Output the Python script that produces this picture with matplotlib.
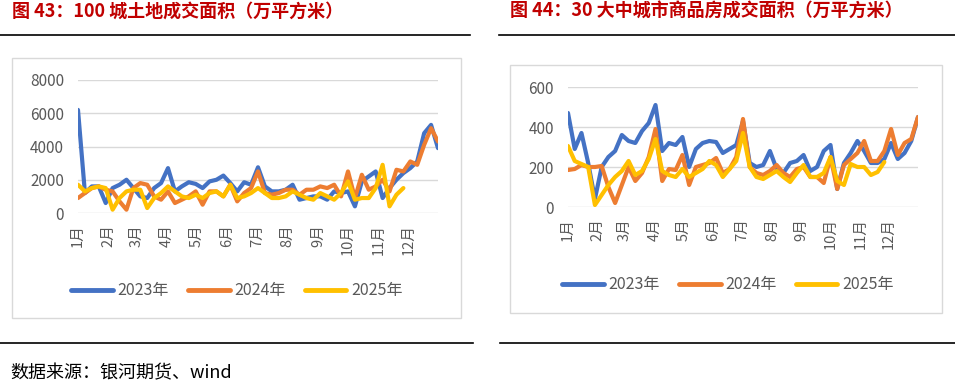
import matplotlib
matplotlib.use("Agg")
import matplotlib.pyplot as plt
from matplotlib.lines import Line2D
from matplotlib.patches import Rectangle

plt.rcParams['font.family'] = ['Noto Sans CJK SC', 'DejaVu Sans']

# ---------------- data ----------------
month_labels = ["1月", "2月", "3月", "4月", "5月", "6月", "7月", "8月", "9月", "10月", "11月", "12月"]
month_start_day = [0, 31, 59, 90, 120, 151, 181, 212, 243, 273, 304, 334]
series_names = ["2023年", "2024年", "2025年"]

land_2023 = [6200, 1200, 1600, 1600, 600, 1500, 1700, 2000, 1500, 1000, 900, 1500, 1800, 2700,
             1300, 1600, 1850, 1750, 1500, 1900, 2000, 2250, 1800, 1300, 1850, 1700, 2750, 1600,
             1300, 1300, 1400, 1700, 800, 900, 1000, 1000, 800, 1300, 1200, 1300, 400, 1900,
             2200, 2500, 900, 1500, 2000, 2400, 2700, 3100, 4800, 5300, 3900]
land_2024 = [900, 1200, 1500, 1600, 1400, 1300, 700, 200, 1500, 1800, 1700, 1000, 800, 1300,
             600, 800, 1000, 1300, 500, 1300, 1300, 1000, 1700, 700, 1200, 1500, 2500, 1200,
             1100, 1200, 1400, 1400, 1100, 1400, 1400, 1600, 1500, 1700, 1000, 2500, 900, 2300,
             1400, 1600, 2000, 1300, 2600, 2500, 3100, 2900, 4100, 5100, 4300]
land_2025 = [1700, 1300, 1500, 1600, 1500, 200, 900, 1300, 1400, 1400, 300, 900, 1200, 1600,
             1300, 1000, 900, 1100, 900, 1200, 1300, 1000, 1700, 900, 1000, 1200, 1500, 1200,
             900, 900, 1000, 1300, 1100, 900, 800, 1200, 1000, 800, 1200, 1900, 800, 900,
             900, 1500, 2900, 400, 1100, 1500]

house_2023 = [470, 290, 370, 220, 40, 200, 250, 280, 360, 330, 320, 380, 420, 510,
              280, 320, 310, 350, 200, 290, 320, 330, 325, 270, 290, 310, 430, 220,
              200, 210, 280, 190, 170, 220, 230, 260, 180, 200, 280, 310, 90, 220,
              270, 330, 280, 220, 220, 240, 320, 240, 270, 330, 450]
house_2024 = [185, 190, 210, 200, 200, 205, 100, 20, 110, 200, 130, 170, 250, 390,
              130, 190, 185, 260, 110, 200, 210, 220, 245, 170, 190, 250, 440, 200,
              170, 160, 180, 210, 170, 150, 190, 200, 150, 150, 120, 250, 90, 210,
              240, 270, 330, 230, 230, 280, 390, 260, 320, 340, 450]
house_2025 = [305, 230, 215, 200, 10, 60, 110, 150, 180, 230, 160, 180, 240, 340,
              180, 160, 150, 190, 150, 170, 190, 230, 210, 150, 190, 230, 370, 200,
              150, 140, 160, 180, 150, 125, 170, 210, 150, 150, 170, 250, 130, 110,
              215, 200, 200, 160, 175, 225]

left_title = "图 43：100 城土地成交面积（万平方米）"
right_title = "图 44：30 大中城市商品房成交面积（万平方米）"
source_text = "数据来源：银河期货、wind"

left_yticks = [0, 2000, 4000, 6000, 8000]
right_yticks = [0, 200, 400, 600]

colors = ["#4472C4", "#ED7D31", "#FFC000"]

# ---------------- figure ----------------
W, H = 955, 383
fig = plt.figure(figsize=(W / 100, H / 100), dpi=100)


def fx(x):
    return x / W


def fy(y):
    return 1 - y / H


def hline(x0, x1, y, color="black", lw=1.2):
    fig.add_artist(Line2D([fx(x0), fx(x1)], [fy(y), fy(y)], transform=fig.transFigure,
                          color=color, lw=lw))


def box(x0, y0, x1, y1):
    fig.add_artist(Rectangle((fx(x0), fy(y1)), fx(x1) - fx(x0), fy(y0) - fy(y1),
                             transform=fig.transFigure, fill=False,
                             edgecolor="#D9D9D9", lw=1.0))


red = "#C00000"
fig.text(fx(12), fy(11), left_title, color=red, fontsize=13, fontweight="bold",
         ha="left", va="center")
fig.text(fx(510), fy(11), right_title, color=red, fontsize=13, fontweight="bold",
         ha="left", va="center")
hline(0, 470, 35)
hline(499, 955, 35)
hline(0, 473, 343)
hline(500, 955, 343)
fig.text(fx(10), fy(373), source_text, color="black", fontsize=13, ha="left", va="center")

box(12, 58, 461, 318)
box(510, 65, 942, 313)

month_pos = [d / 7 for d in month_start_day]


def make_axes(rect_px, data, yticks, legend_y, legend_x):
    x0, ytop, x1, ybot = rect_px
    ax = fig.add_axes([fx(x0), fy(ybot), fx(x1) - fx(x0), fy(ytop) - fy(ybot)])
    for vals, c, name in zip(data, colors, series_names):
        ax.plot(range(len(vals)), vals, color=c, lw=3.0, label=name,
                solid_joinstyle="round", solid_capstyle="round")
    ax.set_xlim(0, 52)
    ax.set_ylim(yticks[0], yticks[-1])
    ax.set_yticks(yticks)
    ax.set_yticklabels([str(v) for v in yticks])
    ax.set_xticks(month_pos)
    ax.set_xticklabels(month_labels, rotation=90, va="top", ha="center")
    ax.tick_params(axis="both", length=0, colors="#595959", labelsize=11)
    ax.tick_params(axis="x", labelsize=10.5, pad=8)
    ax.tick_params(axis="y", pad=10)
    ax.grid(axis="y", color="#D9D9D9", lw=1.0)
    ax.set_axisbelow(True)
    for s in ax.spines.values():
        s.set_visible(False)
    leg = ax.legend(loc="center", bbox_to_anchor=(fx(legend_x), fy(legend_y)),
                    bbox_transform=fig.transFigure, ncol=3, frameon=False,
                    fontsize=11.5, handlelength=2.6, handletextpad=0.3,
                    columnspacing=1.2)
    for t in leg.get_texts():
        t.set_color("#595959")
    for l in leg.get_lines():
        l.set_linewidth(3.5)
    return ax


make_axes((78, 80, 438, 213), [land_2023, land_2024, land_2025], left_yticks, 291, 237)
make_axes((568, 87, 918, 207), [house_2023, house_2024, house_2025], right_yticks, 285, 728)

fig.savefig("out.png", dpi=100)
